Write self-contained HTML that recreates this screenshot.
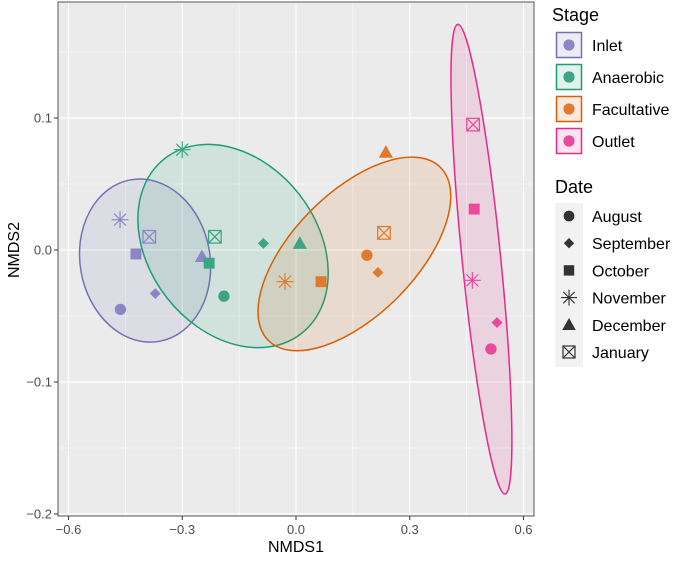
<!DOCTYPE html>
<html><head><meta charset="utf-8">
<style>
body{margin:0;background:#fff;}
svg text{font-family:"Liberation Sans",Arial,sans-serif;}
</style></head>
<body>
<svg id="chart" width="685" height="556" viewBox="0 0 685 556" xmlns="http://www.w3.org/2000/svg">
<g id="grid"></g>
<g id="ellipses"></g>
<g id="points"></g>
<g id="axes"></g>
<text x="296" y="552" font-size="16" text-anchor="middle" fill="#000">NMDS1</text>
<text x="0" y="0" font-size="16" text-anchor="middle" fill="#000" transform="translate(19,250) rotate(-90)">NMDS2</text>
<g id="legend"></g>
</svg>
<script>
const stages = ["Inlet","Anaerobic","Facultative","Outlet"];
const dates = ["August","September","October","November","December","January"];
const stageStroke = ["#7570b3","#1b9e77","#d95f02","#e7298a"];
const stagePoint = ["#8c87c4","#3aa683","#e07a2c","#ea4a9b"];
const xTicks = [-0.6,-0.3,0.0,0.3,0.6];
const xTickLabels = ["-0.6","-0.3","0.0","0.3","0.6"];
const yTicks = [0.1,0.0,-0.1,-0.2];
const yTickLabels = ["0.1","0.0","-0.1","-0.2"];
const ptStage = [0,0,0,0,0,0, 1,1,1,1,1,1, 2,2,2,2,2,2, 3,3,3,3,3];
const ptDate  = [0,1,2,3,4,5, 0,1,2,3,4,5, 0,1,2,3,4,5, 0,1,2,3,5];
const ptX = [-0.463,-0.371,-0.422,-0.464,-0.248,-0.387, -0.190,-0.086,-0.229,-0.300,0.010,-0.214, 0.187,0.216,0.066,-0.029,0.237,0.232, 0.514,0.530,0.470,0.465,0.467];
const ptY = [-0.045,-0.033,-0.003,0.023,-0.005,0.010, -0.035,0.005,-0.010,0.076,0.005,0.010, -0.004,-0.017,-0.024,-0.024,0.074,0.013, -0.075,-0.055,0.031,-0.023,0.095];
const ellX = [-0.398,-0.166,0.154,0.489];
const ellY = [-0.008,0.003,-0.003,-0.007];
const ellA = [82,111,122,236];
const ellB = [65,84,61.4,19.3];
const ellAng = [-100,52,-45.2,84.25];

const L=58,R=534,T=2,B=516;
const xs = v => 296 + v*379.2;
const ys = v => 250 - v*1320;
const NS="http://www.w3.org/2000/svg";
function mk(tag, attrs, parent){const e=document.createElementNS(NS,tag);for(const k in attrs)e.setAttribute(k,attrs[k]);parent.appendChild(e);return e;}

const grid=document.getElementById('grid');
const bg=mk('rect',{x:L,y:T,width:R-L,height:B-T,fill:'#ebebeb'},grid);


[-0.45,-0.15,0.15,0.45].forEach(v=>{const l=mk('line',{x1:xs(v),x2:xs(v),y1:T,y2:B,stroke:'#fff','stroke-width':0.6},grid);});
[0.15,0.05,-0.05,-0.15].forEach(v=>{const l=mk('line',{x1:L,x2:R,y1:ys(v),y2:ys(v),stroke:'#fff','stroke-width':0.6},grid);});
xTicks.forEach(v=>{const l=mk('line',{x1:xs(v),x2:xs(v),y1:T,y2:B,stroke:'#fff','stroke-width':1.2},grid);});
yTicks.forEach(v=>{const l=mk('line',{x1:L,x2:R,y1:ys(v),y2:ys(v),stroke:'#fff','stroke-width':1.2},grid);});

const eg=document.getElementById('ellipses');
stages.forEach((s,i)=>{
  const e=mk('ellipse',{cx:0,cy:0,rx:ellA[i],ry:ellB[i],fill:stageStroke[i],'fill-opacity':0.12,stroke:stageStroke[i],'stroke-width':1.5,transform:`translate(${xs(ellX[i])},${ys(ellY[i])}) rotate(${ellAng[i]})`},eg);
  
  
});

function shape(parent,d,cx,cy,col,sc){
  sc=sc||1;
  const g=mk('g',{transform:`translate(${cx},${cy}) scale(${sc})`},parent);
  if(d===0) mk('circle',{cx:0,cy:0,r:5.4,fill:col},g);
  else if(d===1) mk('polygon',{points:'0,-5.2 5.2,0 0,5.2 -5.2,0',fill:col},g);
  else if(d===2) mk('rect',{x:-5.2,y:-5.2,width:10.4,height:10.4,fill:col},g);
  else if(d===3){mk('path',{d:'M-8,0H8M0,-8V8M-5.7,-5.7L5.7,5.7M-5.7,5.7L5.7,-5.7',stroke:col,'stroke-width':1.1,fill:'none'},g);}
  else if(d===4) mk('polygon',{points:'0,-6.8 6.8,5.2 -6.8,5.2',fill:col},g);
  else {mk('rect',{x:-6,y:-6,width:12,height:12,fill:'none',stroke:col,'stroke-width':1.2},g);mk('path',{d:'M-6,-6L6,6M-6,6L6,-6',stroke:col,'stroke-width':1.2},g);}
  return g;
}
const pg=document.getElementById('points');
ptX.forEach((x,i)=>{
  const g=shape(pg,ptDate[i],xs(x),ys(ptY[i]),stagePoint[ptStage[i]],1.05);
  
  
});

const ax=document.getElementById('axes');
const fr=mk('rect',{x:L,y:T,width:R-L,height:B-T,fill:'none',stroke:'#555','stroke-width':1},ax);


xTicks.forEach((v,i)=>{
  mk('line',{x1:xs(v),x2:xs(v),y1:B,y2:B+4,stroke:'#333'},ax);
  const t=mk('text',{x:xs(v),y:B+18,'font-size':13,fill:'#4d4d4d','text-anchor':'middle'},ax);
  t.textContent=xTickLabels[i].replace('-','\u2212');
  
  
});
yTicks.forEach((v,i)=>{
  mk('line',{x1:L-4,x2:L,y1:ys(v),y2:ys(v),stroke:'#333'},ax);
  const t=mk('text',{x:L-6,y:ys(v)+4.5,'font-size':13,fill:'#4d4d4d','text-anchor':'end'},ax);
  t.textContent=yTickLabels[i].replace('-','\u2212');
  
  
});

const lg=document.getElementById('legend');
const st=mk('text',{x:552,y:21,'font-size':18,fill:'#000'},lg);
st.textContent='Stage';


stages.forEach((s,i)=>{
  const y=32+i*32;
  const g=mk('g',{},lg);
  
  
  mk('rect',{x:556,y:y,width:26,height:26,fill:'#fff'},g);
  mk('rect',{x:556.5,y:y+0.5,width:25,height:25,fill:stageStroke[i],'fill-opacity':0.13,stroke:stageStroke[i],'stroke-width':1.5},g);
  mk('circle',{cx:569,cy:y+13,r:5.6,fill:stagePoint[i]},g);
  const t=mk('text',{x:592,y:y+19,'font-size':16,fill:'#000'},g);
  t.textContent=s;
});
const dt=mk('text',{x:555,y:193,'font-size':18,fill:'#000'},lg);
dt.textContent='Date';


mk('rect',{x:555,y:203,width:28,height:164,fill:'#f2f2f2'},lg);
dates.forEach((d,i)=>{
  const y=216+i*27.2;
  const g=mk('g',{},lg);
  
  
  shape(g,i,569,y,'#333',1.0);
  const t=mk('text',{x:592,y:y+6,'font-size':16,fill:'#000'},g);
  t.textContent=d;
});
</script>
</body></html>
